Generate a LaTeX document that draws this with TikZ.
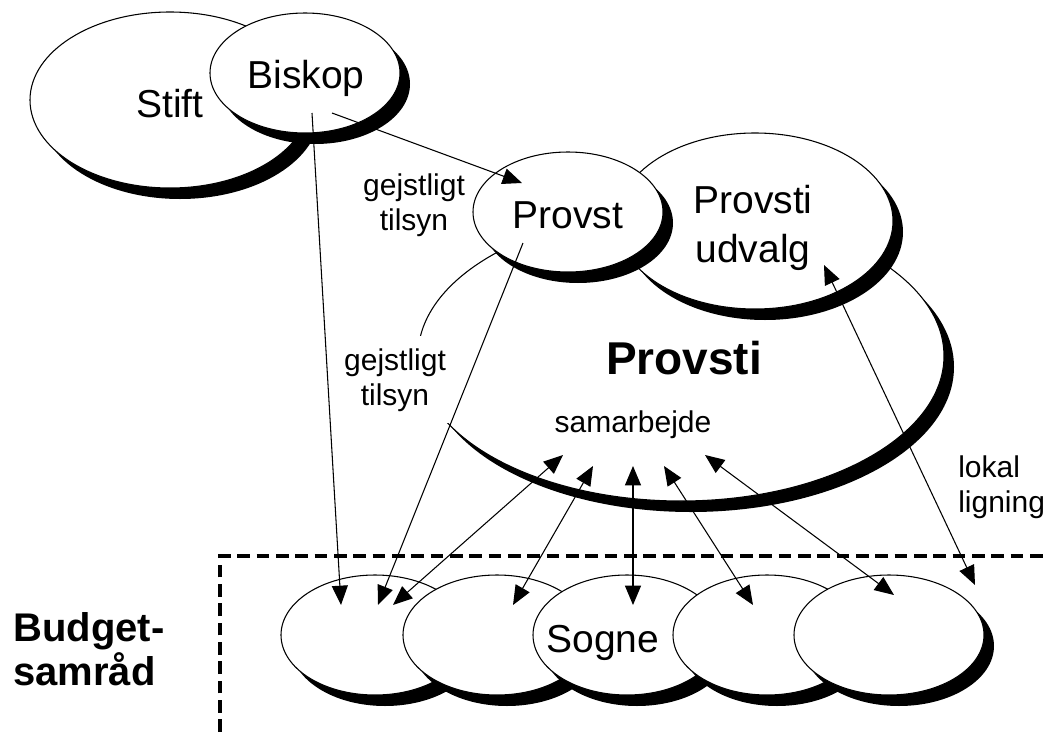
\documentclass[tikz,border=0pt]{standalone}
\usepackage{fontspec}
\setmainfont{Liberation Sans}
\usetikzlibrary{arrows.meta,shadows,shapes.geometric}

\tikzset{
  blob/.style={ellipse, draw, line width=0.8pt, fill=white, inner sep=0pt,
    drop shadow={shadow xshift=7.5pt, shadow yshift=-8.25pt, fill=black, opacity=1}},
  radii/.style 2 args={minimum width=#1*1.5pt, minimum height=#2*1.5pt},
  bigtext/.style={font=\fontsize{29.25pt}{36.75pt}\selectfont, inner sep=0pt, align=center, anchor=base},
  smalltext/.style={font=\fontsize{22.5pt}{26.25pt}\selectfont, inner sep=0pt, align=center, anchor=base},
  tip/.tip={Triangle[length=14.5pt, width=12pt]},
  link/.style={line width=0.8pt, -tip},
  mutual/.style={line width=0.8pt, tip-tip},
  frame/.style={line width=2.4pt, dash pattern=on 9.5pt off 5pt},
}

\begin{document}
\begin{tikzpicture}[x=0.75pt, y=-0.75pt]
  \useasboundingbox (0,0) rectangle (1047,732);

  % diocese and bishop
  \node[blob, radii={140}{88}] (stift) at (170,100) {};
  \node[blob, radii={95}{60}] (biskop) at (305,73) {};
  \node[bigtext] (stiftname) at (170,117) {Stift};
  \node[bigtext] (biskopname) at (306,88) {Biskop};

  % deanery with its committee and dean
  \node[blob, radii={263}{145}] (provsti) at (681,356) {};
  \node[blob, radii={138}{88}] (udvalg) at (755,221) {};
  \node[blob, radii={95}{60}] (provst) at (568,212) {};
  \node[bigtext] (provstname) at (568,228) {Provst};
  \node[bigtext] (udvalgname) at (753,262) {Provsti\\udvalg};
  \node[bigtext, font=\fontsize{34.5pt}{40pt}\selectfont\bfseries] (provstiname) at (684,374) {Provsti};
  \node[smalltext] (samarbejde) at (633,432) {samarbejde};

  % parishes
  \node[blob, radii={94}{60}] (s1) at (375,635) {};
  \node[blob, radii={94}{60}] (s2) at (497,635) {};
  \node[blob, radii={94}{60}] (s3) at (627,635) {};
  \node[blob, radii={94}{60}] (s4) at (767,635) {};
  \node[blob, radii={95}{60}] (s5) at (889,635) {};
  \node[bigtext] (sognename) at (603,652) {Sogne};

  % budget cooperation frame
  \draw[frame] (220,732) -- (220,556) -- (1047,556);
  \node[font=\fontsize{30pt}{33pt}\selectfont\bfseries, inner sep=0pt, align=left, anchor=base west]
    (budget) at (13,685) {Budget-\\samråd};

  % labels (the base anchor of a two-line label is its last line)
  \node[smalltext] (tilsyn1) at (414,230) {gejstligt\\tilsyn};
  \node[smalltext, fill=white, inner xsep=4pt, inner ysep=9pt] (tilsyn2) at (395,405) {gejstligt\\tilsyn};
  \node[smalltext, align=left, anchor=base west] (lokal) at (958,512) {lokal\\ligning};

  % supervision
  \draw[link] ([shift={(27,40)}]biskop.center) -- ([shift={(-46,-29)}]provst.center);
  \draw[link] ([shift={(7,40)}]biskop.center) -- ([shift={(-34,-30)}]s1.center);
  \draw[link] ([shift={(-45,31)}]provst.center) -- ([shift={(3,-30)}]s1.center);

  % cooperation
  \draw[mutual] ([shift={(-118,99)}]provsti.center) -- ([shift={(18,-30)}]s1.center);
  \draw[mutual] ([shift={(-88,110)}]provsti.center) -- ([shift={(16,-30)}]s2.center);
  \draw[mutual] ([shift={(-48,110)}]provsti.center) -- ([shift={(6,-30)}]s3.center);
  \draw[mutual] ([shift={(-17,110)}]provsti.center) -- ([shift={(-14,-30)}]s4.center);
  \draw[mutual] ([shift={(24,99)}]provsti.center) -- ([shift={(5,-40)}]s5.center);

  % local taxation
  \draw[mutual] ([shift={(69,44)}]udvalg.center) -- ([shift={(86,-50)}]s5.center);
\end{tikzpicture}
\end{document}
